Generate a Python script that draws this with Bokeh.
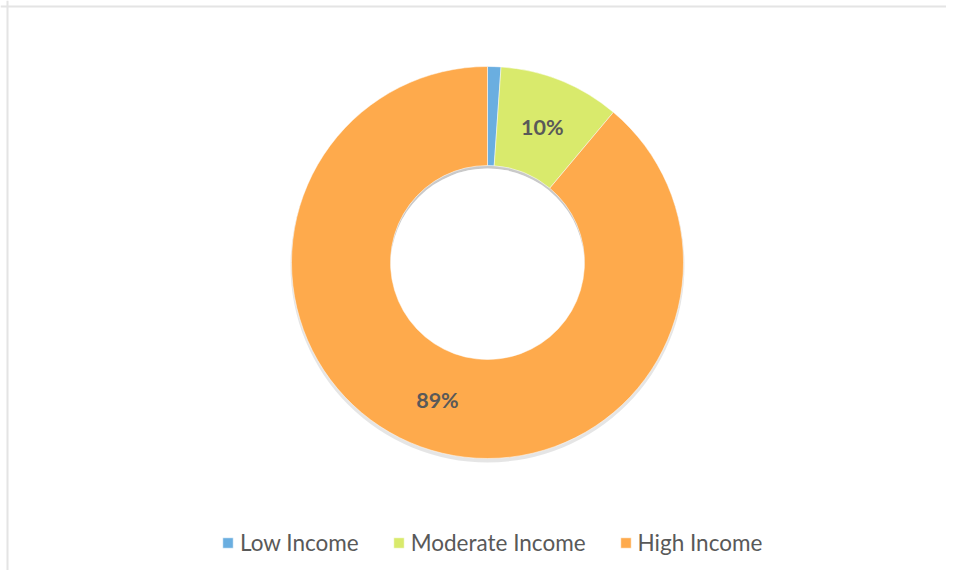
import numpy as np
from bokeh.plotting import figure
from bokeh.models import ColumnDataSource, Legend, LegendItem, Span
from bokeh.core.properties import value
from bokeh.embed import file_html
from bokeh.resources import INLINE

categories = ["Low Income", "Moderate Income", "High Income"]
shares = [1.1, 10.0, 88.9]
labels = ["", "10%", "89%"]
colors = ["#6AAEE0", "#D9EA6C", "#FEAA4C"]

W, H = 946, 570
cx, cy = 487, 262  # donut centre in figure pixels from top-left
R_OUT, R_IN = 196, 97

frac = np.array(shares) / sum(shares)
cum = np.concatenate([[0], np.cumsum(frac)])
start = np.pi / 2 - 2 * np.pi * cum[:-1]
end = np.pi / 2 - 2 * np.pi * cum[1:]
mid = np.pi / 2 - 2 * np.pi * (cum[:-1] + cum[1:]) / 2
r_mid = (R_OUT + R_IN) / 2

src = ColumnDataSource(dict(cat=categories, start=start, end=end, color=colors,
                            lx=r_mid * np.cos(mid), ly=r_mid * np.sin(mid), label=labels))

p = figure(width=W, height=H, output_backend="svg", toolbar_location=None,
           x_range=(-cx, W - cx), y_range=(-(H - cy), cy),
           min_border=0, min_border_left=0, min_border_right=0,
           min_border_top=0, min_border_bottom=0)
p.axis.visible = False
p.grid.visible = False
p.outline_line_color = None
p.background_fill_color = "white"

p.add_layout(Span(location=-cx + 7, dimension="height", line_color="#E4E4E4", line_width=2))
p.add_layout(Span(location=cy - 6, dimension="width", line_color="#E4E4E4", line_width=2))

# soft drop shadow below the ring
p.annulus(x=0, y=-3, inner_radius=R_IN, outer_radius=R_OUT + 1,
          fill_color="black", fill_alpha=0.10, line_color=None)
# inner shadow at the top of the hole
p.circle(x=0, y=0, radius=R_IN, fill_color="black", fill_alpha=0.12, line_color=None)
p.circle(x=0, y=-3, radius=R_IN, fill_color="white", line_color=None)

r = p.annular_wedge(x=0, y=0, inner_radius=R_IN, outer_radius=R_OUT,
                    start_angle="start", end_angle="end", direction="clock",
                    fill_color="color", line_color="white", line_width=0.5, source=src)

p.text(x="lx", y="ly", text="label", source=src, text_align="center",
       text_baseline="middle", text_font=value("Lato"), text_font_style="bold",
       text_font_size="21.5px", text_color="#595959")

items = [LegendItem(label=c, renderers=[r], index=i) for i, c in enumerate(categories)]
legend = Legend(items=items, orientation="horizontal", location=(221, 14),
                label_text_font="Lato", label_text_font_size="22.5px",
                label_text_color="#595959", glyph_width=13, glyph_height=13,
                label_standoff=6, spacing=33, padding=0, margin=0,
                border_line_color=None, background_fill_alpha=0)
p.add_layout(legend, "center")

open("out.html", "w").write(file_html(p, INLINE))
